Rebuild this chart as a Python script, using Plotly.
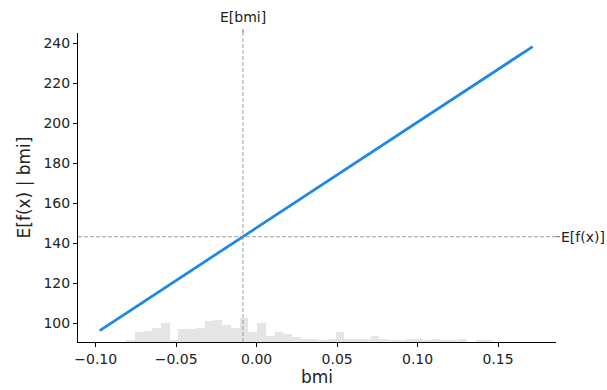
import plotly.graph_objects as go

# partial dependence line
pd_x = [-0.0975, -0.05, 0.0, 0.05, 0.10, 0.15, 0.1715]
pd_y = [96.2, 121.2, 147.6, 174.0, 200.4, 226.9, 238.2]

# expected values
e_bmi = -0.0085
e_fx = 143.15

# histogram of bmi (50 bins)
hist_start = -0.0975
hist_width = 0.00543
hist_counts = [0, 0, 0, 1, 6, 7, 9, 12, 1, 8,
               8, 9, 13, 14, 11, 9, 15, 6, 12, 4,
               6, 5, 3, 2, 2, 1, 2, 6, 2, 2,
               2, 4, 2, 1, 1, 2, 2, 1, 2, 1,
               1, 2, 0, 1, 1, 0, 0, 0, 0, 0]
hist_centers = [hist_start + (i + 0.5) * hist_width for i in range(len(hist_counts))]

font = "DejaVu Sans"
fig = go.Figure()
fig.add_trace(go.Bar(x=hist_centers, y=hist_counts, width=hist_width,
                     marker=dict(color="rgba(0,0,0,0.1)", line=dict(width=0)),
                     yaxis="y2", hoverinfo="skip", showlegend=False))
fig.add_trace(go.Scatter(x=pd_x, y=pd_y, mode="lines",
                         line=dict(color="#1E88E5", width=2.8), showlegend=False))

xr = [-0.111, 0.186]
yr = [90.5, 245]

fig.add_shape(type="line", xref="x", yref="paper", x0=e_bmi, x1=e_bmi, y0=0, y1=1.0,
              line=dict(color="#888888", width=0.8, dash="4px,2px"))
fig.add_shape(type="line", xref="x", yref="paper", x0=e_bmi, x1=e_bmi, y0=1.0, y1=1.012,
              line=dict(color="#333333", width=0.8))
fig.add_shape(type="line", xref="paper", yref="y", x0=0, x1=1.0, y0=e_fx, y1=e_fx,
              line=dict(color="#888888", width=0.8, dash="4px,2px"))
fig.add_shape(type="line", xref="paper", yref="y", x0=1.0, x1=1.008, y0=e_fx, y1=e_fx,
              line=dict(color="#333333", width=0.8))
fig.add_annotation(x=e_bmi, y=1.018, xref="x", yref="paper", text="E[bmi]",
                   showarrow=False, yanchor="bottom", xanchor="center",
                   font=dict(family=font, size=14, color="#222"))
fig.add_annotation(x=1.006, y=e_fx, xref="paper", yref="y", text="E[f(x)]",
                   showarrow=False, xanchor="left", yanchor="middle",
                   font=dict(family=font, size=14, color="#222"))

fig.update_layout(
    width=607, height=390,
    margin=dict(l=78, r=51, t=33, b=48),
    paper_bgcolor="white", plot_bgcolor="white",
    font=dict(family=font, size=14, color="#222"),
    bargap=0,
    xaxis=dict(range=xr, showgrid=False, zeroline=False, showline=True, automargin=False,
               linecolor="black", linewidth=1, ticks="outside", ticklen=4,
               tickcolor="black", tickvals=[-0.10, -0.05, 0.0, 0.05, 0.10, 0.15],
               ticktext=["\u22120.10", "\u22120.05", "0.00", "0.05", "0.10", "0.15"],
               title=dict(text="bmi", font=dict(size=17), standoff=4)),
    yaxis=dict(range=yr, showgrid=False, zeroline=False, showline=True, automargin=False,
               linecolor="black", linewidth=1, ticks="outside", ticklen=4,
               tickcolor="black", tickvals=[100, 120, 140, 160, 180, 200, 220, 240],
               title=dict(text="E[f(x) | bmi]", font=dict(size=17), standoff=8)),
    yaxis2=dict(overlaying="y", range=[0, 195], visible=False, fixedrange=True),
)

fig.write_html("out.html")
